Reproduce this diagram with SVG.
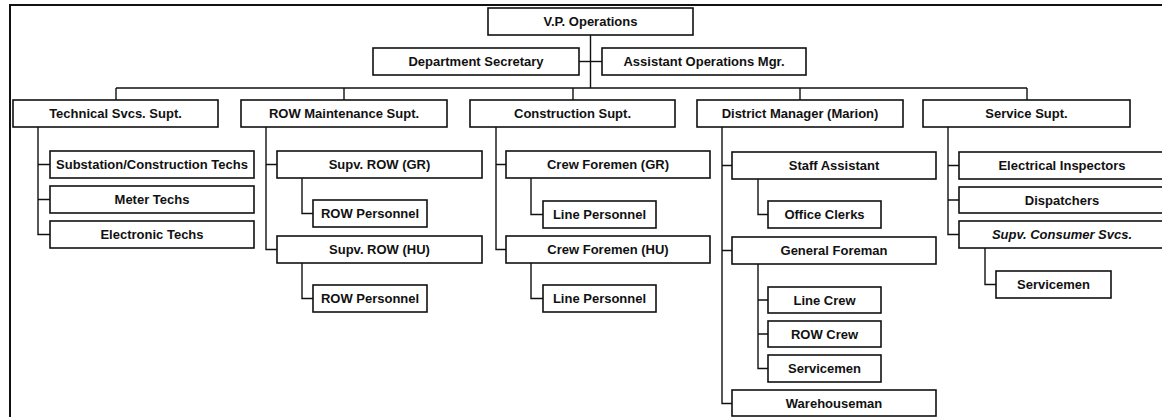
<svg xmlns="http://www.w3.org/2000/svg" width="1162" height="417" viewBox="0 0 1162 417">
  <style>
    .box { fill: #ffffff; stroke: #111111; stroke-width: 1.6; }
    .lbl { font-family: "Liberation Sans", Arial, sans-serif; font-weight: bold; font-size: 13px; fill: #111111; text-anchor: middle; dominant-baseline: central; }
    .it { font-style: italic; }
    .wire { fill: none; stroke: #111111; stroke-width: 1.4; }
    .frame { fill: none; stroke: #111111; stroke-width: 2; }
  </style>
  <rect x="0" y="0" width="1162" height="417" fill="#ffffff"/>

  <!-- page frame (top and left edges) -->
  <path class="frame" d="M10,417 V5 H1162"/>

  <!-- connectors -->
  <g id="connectors" class="wire">
    <!-- executive spine -->
    <path d="M590.5,35 V88"/>
    <path d="M579,61.5 H602"/>
    <!-- department bus -->
    <path d="M116,88 H1027 M116,88 V100 M344,88 V100 M573,88 V100 M800,88 V100 M1027,88 V100"/>
    <!-- Technical Svcs. -->
    <path d="M38,127 V234.5 H50 M38,164.5 H50 M38,199.5 H50"/>
    <!-- ROW Maintenance -->
    <path d="M266,127 V249.5 H277 M266,164.5 H277"/>
    <path d="M302,178 V213.5 H313 M302,263 V298.5 H313"/>
    <!-- Construction -->
    <path d="M496,127 V249.5 H506 M496,164.5 H506"/>
    <path d="M531,178 V214.5 H543 M531,263 V298.5 H543"/>
    <!-- District Manager -->
    <path d="M722,127 V403.5 H732 M722,165.5 H732 M722,250.5 H732"/>
    <path d="M758,179 V214.5 H768"/>
    <path d="M758,264 V368.5 H768 M758,300 H768 M758,334 H768"/>
    <!-- Service -->
    <path d="M948,127 V234.5 H959 M948,165.5 H959 M948,200 H959"/>
    <path d="M985,248 V284.5 H996"/>
  </g>

  <!-- executive level -->
  <g id="vp-operations"><rect class="box" x="488" y="8" width="205" height="27"/><text class="lbl" x="590.5" y="21.5">V.P. Operations</text></g>
  <g id="department-secretary"><rect class="box" x="373" y="48" width="206" height="27"/><text class="lbl" x="476" y="61.5">Department Secretary</text></g>
  <g id="assistant-operations-mgr"><rect class="box" x="602" y="48" width="204" height="27"/><text class="lbl" x="704" y="61.5">Assistant Operations Mgr.</text></g>

  <!-- department heads -->
  <g id="technical-svcs"><rect class="box" x="13" y="100" width="205" height="27"/><text class="lbl" x="115.5" y="113.5">Technical Svcs. Supt.</text></g>
  <g id="row-maintenance"><rect class="box" x="241" y="100" width="206" height="27"/><text class="lbl" x="344" y="113.5">ROW Maintenance Supt.</text></g>
  <g id="construction"><rect class="box" x="470" y="100" width="205" height="27"/><text class="lbl" x="572.5" y="113.5">Construction Supt.</text></g>
  <g id="district-manager"><rect class="box" x="697" y="100" width="206" height="27"/><text class="lbl" x="800" y="113.5">District Manager (Marion)</text></g>
  <g id="service"><rect class="box" x="923" y="100" width="207" height="27"/><text class="lbl" x="1026.5" y="113.5">Service Supt.</text></g>

  <!-- Technical Svcs. staff -->
  <g id="substation-techs"><rect class="box" x="50" y="151" width="204" height="27"/><text class="lbl" x="152" y="164.5">Substation/Construction Techs</text></g>
  <g id="meter-techs"><rect class="box" x="50" y="186" width="204" height="27"/><text class="lbl" x="152" y="199.5">Meter Techs</text></g>
  <g id="electronic-techs"><rect class="box" x="50" y="221" width="204" height="27"/><text class="lbl" x="152" y="234.5">Electronic Techs</text></g>

  <!-- ROW Maintenance staff -->
  <g id="supv-row-gr"><rect class="box" x="277" y="151" width="205" height="27"/><text class="lbl" x="379.5" y="164.5">Supv. ROW (GR)</text></g>
  <g id="row-personnel-gr"><rect class="box" x="313" y="200" width="114" height="27"/><text class="lbl" x="370" y="213.5">ROW Personnel</text></g>
  <g id="supv-row-hu"><rect class="box" x="277" y="236" width="205" height="27"/><text class="lbl" x="379.5" y="249.5">Supv. ROW (HU)</text></g>
  <g id="row-personnel-hu"><rect class="box" x="313" y="285" width="114" height="27"/><text class="lbl" x="370" y="298.5">ROW Personnel</text></g>

  <!-- Construction staff -->
  <g id="crew-foremen-gr"><rect class="box" x="506" y="151" width="204" height="27"/><text class="lbl" x="608" y="164.5">Crew Foremen (GR)</text></g>
  <g id="line-personnel-gr"><rect class="box" x="543" y="201" width="113" height="27"/><text class="lbl" x="599.5" y="214.5">Line Personnel</text></g>
  <g id="crew-foremen-hu"><rect class="box" x="506" y="236" width="204" height="27"/><text class="lbl" x="608" y="249.5">Crew Foremen (HU)</text></g>
  <g id="line-personnel-hu"><rect class="box" x="543" y="285" width="113" height="27"/><text class="lbl" x="599.5" y="298.5">Line Personnel</text></g>

  <!-- District Manager staff -->
  <g id="staff-assistant"><rect class="box" x="732" y="152" width="204" height="27"/><text class="lbl" x="834" y="165.5">Staff Assistant</text></g>
  <g id="office-clerks"><rect class="box" x="768" y="201" width="113" height="27"/><text class="lbl" x="824.5" y="214.5">Office Clerks</text></g>
  <g id="general-foreman"><rect class="box" x="732" y="237" width="204" height="27"/><text class="lbl" x="834" y="250.5">General Foreman</text></g>
  <g id="line-crew"><rect class="box" x="768" y="287" width="113" height="26"/><text class="lbl" x="824.5" y="300">Line Crew</text></g>
  <g id="row-crew"><rect class="box" x="768" y="321" width="113" height="26"/><text class="lbl" x="824.5" y="334">ROW Crew</text></g>
  <g id="servicemen-district"><rect class="box" x="768" y="355" width="113" height="27"/><text class="lbl" x="824.5" y="368.5">Servicemen</text></g>
  <g id="warehouseman"><rect class="box" x="732" y="390" width="204" height="26"/><text class="lbl" x="834" y="403.5">Warehouseman</text></g>

  <!-- Service staff -->
  <g id="electrical-inspectors"><rect class="box" x="959" y="152" width="206" height="27"/><text class="lbl" x="1062" y="165.5">Electrical Inspectors</text></g>
  <g id="dispatchers"><rect class="box" x="959" y="187" width="206" height="26"/><text class="lbl" x="1062" y="200">Dispatchers</text></g>
  <g id="supv-consumer-svcs"><rect class="box" x="959" y="221" width="206" height="27"/><text class="lbl it" x="1062" y="234.5">Supv. Consumer Svcs.</text></g>
  <g id="servicemen-service"><rect class="box" x="996" y="271" width="115" height="27"/><text class="lbl" x="1053.5" y="284.5">Servicemen</text></g>
</svg>
